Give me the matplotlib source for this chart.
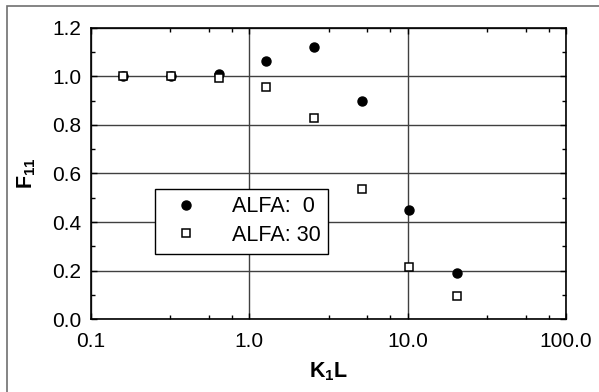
import matplotlib.pyplot as plt
from matplotlib.patches import Rectangle
import numpy as np

plt.rcParams['font.family'] = ['Liberation Sans', 'DejaVu Sans']
plt.rcParams['mathtext.fontset'] = 'custom'
plt.rcParams['mathtext.rm'] = 'Liberation Sans'
plt.rcParams['mathtext.bf'] = 'Liberation Sans:bold'

k1l = [0.16, 0.32, 0.64, 1.28, 2.56, 5.12, 10.24, 20.48]
f11_alfa0 = [1.0, 1.0, 1.01, 1.065, 1.12, 0.90, 0.45, 0.19]
f11_alfa30 = [1.0, 1.0, 0.995, 0.955, 0.83, 0.535, 0.215, 0.095]

fig = plt.figure(figsize=(5.99, 3.92), dpi=100)
ax = fig.add_axes([0.152, 0.186, 0.793, 0.743])

# outer frame
fig.patches.append(Rectangle((7 / 599, -0.1), 1.2, 1 - 6 / 392 + 0.1,
                             transform=fig.transFigure, fill=False,
                             ec='#707070', lw=1.2))

ax.plot(k1l, f11_alfa0, 'o', color='black', ms=6.5, label='ALFA:  0', zorder=3)
ax.plot(k1l, f11_alfa30, 's', mfc='white', mec='black', mew=1.1, ms=6,
        label='ALFA: 30', zorder=4)

ax.set_xscale('log')
ax.set_xlim(0.1, 100)
ax.set_ylim(0, 1.2)
ax.set_xticks([0.1, 1, 10, 100])
ax.set_xticklabels(['0.1', '1.0', '10.0', '100.0'])
minor = []
for d in [0.1, 1, 10]:
    minor += [d * 10 ** 0.5, d * 10 ** 0.745, d * 10 ** 0.89]
ax.set_xticks(minor, minor=True)
ax.set_xticklabels([], minor=True)
ax.set_yticks(np.arange(0, 1.21, 0.2))
ax.set_yticklabels([f'{v:.1f}' for v in np.arange(0, 1.21, 0.2)])
ax.set_yticks(np.arange(0.1, 1.2, 0.2), minor=True)

ax.tick_params(which='both', direction='in', top=True, right=True,
               labelsize=15, width=1, color='black')
ax.tick_params(which='major', length=4)
ax.tick_params(which='minor', length=3)
ax.tick_params(axis='x', pad=9)
ax.tick_params(axis='y', pad=7)
ax.grid(True, which='major', color='#404040', lw=1)
for s in ax.spines.values():
    s.set_linewidth(1.2)

ax.set_xlabel(r'$\mathbf{K_1L}$', fontsize=15.5, labelpad=7)
ax.set_ylabel(r'$\mathbf{F_{11}}$', fontsize=15.5, labelpad=10)

leg = ax.legend(loc='upper left', bbox_to_anchor=(0.135, 0.447), fontsize=15.5,
                frameon=True, fancybox=False, edgecolor='black',
                framealpha=1, handletextpad=1.0, borderpad=0.35,
                labelspacing=0.35, handlelength=2.2, borderaxespad=0)
leg.get_frame().set_linewidth(1)

fig.savefig('out.png', dpi=100)
